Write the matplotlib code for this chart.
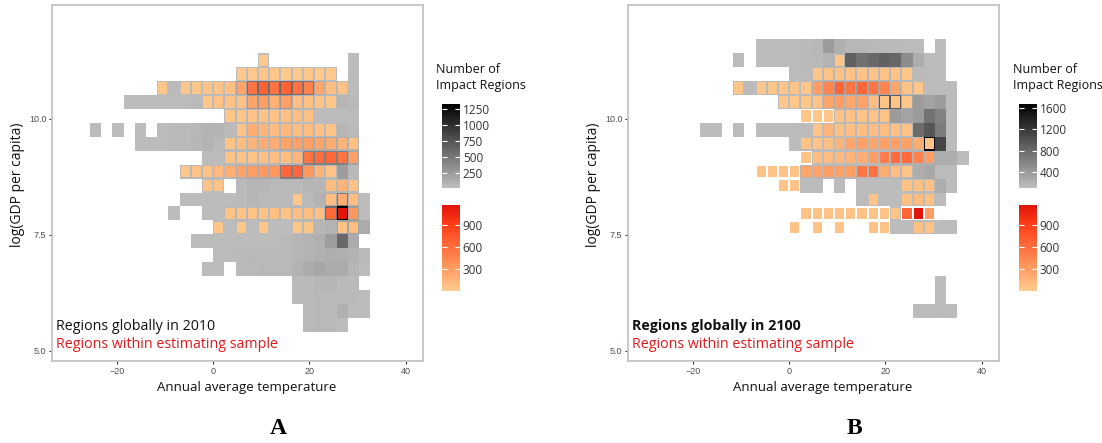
import numpy as np
import matplotlib
matplotlib.use('Agg')
import matplotlib.pyplot as plt
from matplotlib.colors import LinearSegmentedColormap, Normalize
from matplotlib.cm import ScalarMappable

# bin grid (temperature x log GDP)
temp_step = 2.33
gdp_step = 0.3
temp_edges = temp_step * np.arange(-11, 17)
gdp_edges = 9.91 + gdp_step * np.arange(-15, 7)

# counts per bin: row j -> (first column i, counts from there on), 0 = empty
gray_2010 = {
    4: (4, [40, 0, 0, 0, 0, 0, 0, 0, 40]),
    3: (2, [40, 40, 40, 40, 40, 40, 40, 40, 40, 0, 40]),
    2: (-5, [40, 50, 40, 40, 40, 40, 40, 200, 560, 600, 560, 620, 560, 520, 150, 60, 40, 40]),
    1: (-8, [40, 40, 40, 40, 40, 40, 60, 50, 50, 50, 50, 250, 300, 200, 280, 120, 100, 60, 60, 80, 60]),
    0: (1, [60, 60, 60, 60, 60, 60, 60, 60, 40, 40, 40, 40]),
    -1: (-11, [40, 0, 40, 0, 40, 0, 40, 50, 60, 70, 90, 100, 60, 60, 60, 60, 60, 60, 60, 60, 60, 60, 80, 50]),
    -2: (-7, [40, 40, 40, 50, 60, 80, 100, 60, 60, 60, 80, 80, 100, 150, 150, 150, 150, 150, 120, 100]),
    -3: (-1, [40, 40, 60, 60, 60, 60, 60, 60, 100, 450, 450, 450, 450, 200]),
    -4: (-3, [60, 60, 60, 60, 60, 120, 150, 150, 150, 450, 450, 150, 100, 60, 250, 60]),
    -5: (-1, [40, 40, 0, 60, 80, 80, 60, 60, 60, 80, 80, 60, 60, 60]),
    -6: (-3, [40, 40, 40, 40, 40, 50, 80, 50, 50, 60, 60, 60, 100, 150, 500, 100, 40]),
    -7: (-4, [40, 0, 0, 40, 40, 60, 60, 60, 60, 60, 60, 60, 60, 60, 600, 1320, 250, 40]),
    -8: (0, [60, 40, 60, 40, 60, 40, 40, 60, 60, 80, 100, 200, 200, 150]),
    -9: (-2, [40, 40, 40, 40, 40, 40, 40, 40, 60, 80, 100, 120, 250, 620, 150]),
    -10: (0, [40, 40, 50, 60, 60, 60, 60, 80, 100, 120, 140, 120, 100, 50]),
    -11: (-1, [40, 40, 0, 50, 50, 60, 60, 60, 100, 150, 180, 150, 150, 80, 40]),
    -12: (7, [50, 60, 80, 80, 60, 50]),
    -13: (7, [50, 50, 60, 60, 60, 50, 40]),
    -14: (8, [50, 60, 60, 120, 40, 40]),
    -15: (8, [50, 60, 60, 40]),
}

sample_2010 = {
    4: (4, [30]),
    3: (2, [30, 30, 40, 40, 30, 30, 40, 30, 30]),
    2: (-5, [40, 0, 40, 40, 60, 60, 80, 250, 560, 680, 570, 680, 580, 480, 250, 100, 60]),
    1: (-1, [40, 60, 60, 80, 250, 300, 180, 280, 100, 80, 60, 40]),
    0: (1, [40, 50, 60, 60, 60, 80, 100, 80]),
    -1: (2, [60, 200, 150, 100, 120, 100, 100, 80, 60]),
    -2: (1, [60, 100, 150, 200, 200, 270, 280, 280, 250, 200, 150, 80]),
    -3: (1, [60, 60, 60, 80, 80, 100, 150, 560, 600, 640, 560, 280]),
    -4: (-3, [40, 60, 80, 120, 200, 270, 300, 330, 330, 650, 650, 330, 150, 60]),
    -5: (-1, [60, 60, 0, 0, 0, 0, 0, 0, 0, 0, 0, 100, 150, 60]),
    -6: (7, [40, 0, 0, 100, 200, 100]),
    -7: (1, [60, 60, 60, 60, 80, 60, 100, 100, 80, 640, 1160, 330]),
    -8: (0, [40, 0, 40, 0, 40, 0, 0, 40, 40, 0, 0, 80, 100]),
}

gray_2100 = {
    5: (-3, [110, 110, 110, 110, 130, 150, 377, 220, 150, 150, 140, 130, 130, 120, 110, 0, 110]),
    4: (-5, [110, 0, 110, 110, 110, 120, 130, 140, 180, 180, 870, 740, 800, 870, 820, 520, 235, 120, 120]),
    3: (0, [110, 120, 140, 140, 140, 140, 140, 140, 140, 140, 140, 130, 120, 110]),
    2: (-5, [110, 120, 110, 110, 110, 110, 110, 200, 300, 320, 300, 320, 300, 280, 200, 150, 130, 120, 110, 110]),
    1: (-1, [110, 110, 120, 130, 200, 200, 180, 200, 150, 900, 900, 300, 377, 320, 377, 110]),
    0: (1, [0, 0, 0, 150, 150, 150, 150, 200, 377, 320, 377, 727, 592, 110]),
    -1: (-8, [110, 110, 0, 110, 0, 110, 110, 110, 110, 110, 120, 120, 120, 120, 120, 120, 120, 120, 120, 780, 960, 650, 110]),
    -2: (0, [110, 120, 120, 120, 120, 120, 150, 150, 150, 150, 150, 150, 1680, 1110, 110]),
    -3: (2, [120, 120, 120, 120, 120, 150, 150, 200, 200, 200, 200, 235, 235, 110]),
    -4: (1, [150, 150, 150, 150, 150, 150, 150, 150, 150, 150, 235, 280, 110, 110]),
    -5: (1, [110, 110, 0, 110, 0, 110, 110, 110, 120, 110, 110, 110, 235, 110]),
    -6: (6, [110, 110, 110, 110, 110, 120, 120, 110]),
    -7: (9, [110]),
    -8: (9, [110, 110, 110, 110, 110, 110]),
    -12: (13, [110]),
    -13: (13, [110]),
    -14: (11, [110, 110, 120, 110]),
}

sample_2100 = {
    4: (4, [40]),
    3: (2, [40, 60, 60, 60, 60, 60, 60, 60, 40]),
    2: (-5, [40, 0, 40, 40, 40, 40, 40, 300, 450, 650, 550, 650, 560, 460, 250, 60, 40]),
    1: (-1, [40, 40, 40, 60, 250, 300, 230, 270, 100, 60, 60, 40]),
    0: (1, [40, 40, 40, 60, 60, 60, 60, 60]),
    -1: (2, [60, 150, 80, 80, 100, 100, 100, 80, 60]),
    -2: (1, [60, 60, 80, 150, 250, 270, 250, 280, 300, 280, 200, 60]),
    -3: (1, [60, 100, 100, 120, 150, 200, 300, 500, 620, 620, 480, 300]),
    -4: (-3, [60, 60, 60, 60, 250, 270, 300, 280, 300, 540, 580, 200, 100, 60]),
    -5: (-1, [60, 60, 0, 0, 0, 0, 0, 0, 0, 0, 0, 60, 80, 80]),
    -6: (7, [60, 0, 0, 80, 100, 80]),
    -7: (1, [60, 60, 60, 60, 60, 60, 60, 60, 60, 650, 1170, 300]),
    -8: (0, [60, 0, 60, 0, 60, 0, 0, 60, 60, 0, 0, 80, 60]),
}

gray_range_2010 = (20, 1333)
gray_range_2100 = (91, 1682)
sample_range = (1, 1170)
gray_ticks_2010 = [250, 500, 750, 1000, 1250]
gray_ticks_2100 = [400, 800, 1200, 1600]
sample_ticks = [300, 600, 900]

gray_cmap = LinearSegmentedColormap.from_list('grays', ['#BEBEBE', '#000000'])
orange_cmap = LinearSegmentedColormap.from_list(
    'oranges', [(0, '#FFCC90'), (0.25, '#FF9E64'), (0.5, '#FF7040'), (0.77, '#FF3E18'), (1, '#E0140A')])

W, H = 1102, 443
FONT = 'Open Sans'
RED = '#E3191C'


def to_grid(rows):
    grid = np.zeros((len(gdp_edges) - 1, len(temp_edges) - 1))
    for j, (i0, vals) in rows.items():
        for k, v in enumerate(vals):
            grid[j + 15, i0 + k + 11] = v
    return grid


def px(x0, y0, w, h):
    # pixel box (left, top, width, height) -> figure fraction
    return [x0 / W, 1 - (y0 + h) / H, w / W, h / H]


def colorbar(fig, box, cmap, vrange, ticks):
    cax = fig.add_axes(px(*box))
    sm = ScalarMappable(norm=Normalize(*vrange), cmap=cmap)
    cb = fig.colorbar(sm, cax=cax, ticks=ticks)
    cb.outline.set_visible(False)
    cax.yaxis.set_ticks_position('both')
    cax.tick_params(direction='in', color='white', length=3.5, width=0.8,
                    labelsize=8.5, labelcolor='#333333', pad=2)
    for t in cax.get_yticklabels():
        t.set_family(FONT)
    return cb


def panel(fig, left, gray_rows, sample_rows, gray_range, year, bold, letter):
    ax = fig.add_axes(px(left, 5, 371, 356))

    g = to_grid(gray_rows)
    ax.pcolormesh(temp_edges, gdp_edges, np.ma.masked_equal(g, 0), cmap=gray_cmap,
                  norm=Normalize(*gray_range), shading='flat', antialiased=False, linewidth=0)

    s = to_grid(sample_rows)
    jj, ii = np.nonzero(s)
    xc = (temp_edges[ii] + temp_edges[ii + 1]) / 2
    yc = (gdp_edges[jj] + gdp_edges[jj + 1]) / 2
    w = temp_step * 0.82
    h = gdp_step * 0.82
    ax.bar(xc, h, width=w, bottom=yc - h / 2,
           color=orange_cmap(Normalize(*sample_range)(s[jj, ii])), linewidth=0)

    ax.set_xlim(-33.5, 43.6)
    ax.set_ylim(4.78, 12.45)
    ax.set_xticks([-20, 0, 20, 40])
    ax.set_yticks([5.0, 7.5, 10.0])
    ax.set_yticklabels(['5.0', '7.5', '10.0'])
    ax.tick_params(length=2.5, width=0.8, color='#333333', labelsize=6.5,
                   labelcolor='#4D4D4D', pad=1.5)
    for t in ax.get_xticklabels() + ax.get_yticklabels():
        t.set_family('Liberation Sans')
    for sp in ax.spines.values():
        sp.set_color('#C4C4C4')
        sp.set_linewidth(1.3)

    ax.text(0.012, 0.098, 'Regions globally in ' + year, transform=ax.transAxes,
            fontsize=10.3, family=FONT, color='#111111', va='center',
            fontweight='bold' if bold else 'normal')
    ax.text(0.012, 0.045, 'Regions within estimating sample', transform=ax.transAxes,
            fontsize=10.3, family=FONT, color=RED, va='center')

    fig.text((left + 195) / W, 1 - 387 / H, 'Annual average temperature',
             ha='center', va='center', fontsize=9.5, family=FONT, color='#111111')
    fig.text((left - 34.5) / W, 1 - 185 / H, 'log(GDP per capita)', rotation=90,
             ha='center', va='center', fontsize=10, family=FONT, color='#111111')
    fig.text((left + 226) / W, 1 - 428 / H, letter, ha='center', va='center',
             fontsize=17, family='Liberation Serif', fontweight='bold')
    return ax


fig = plt.figure(figsize=(W / 100, H / 100), dpi=100)

panel(fig, 52, gray_2010, sample_2010, gray_range_2010, '2010', False, 'A')
panel(fig, 628, gray_2100, sample_2100, gray_range_2100, '2100', True, 'B')

for lx, grange, gticks in [(442, gray_range_2010, gray_ticks_2010),
                           (1019, gray_range_2100, gray_ticks_2100)]:
    fig.text((lx - 6) / W, 1 - 63 / H, 'Number of\nImpact Regions', ha='left', va='top',
             fontsize=9, family=FONT, color='#111111', linespacing=1.25)
    colorbar(fig, (lx, 104, 18, 84), gray_cmap, grange, gticks)
    colorbar(fig, (lx, 205, 18, 86), orange_cmap, sample_range, sample_ticks)

fig.savefig('out.png', dpi=100)
